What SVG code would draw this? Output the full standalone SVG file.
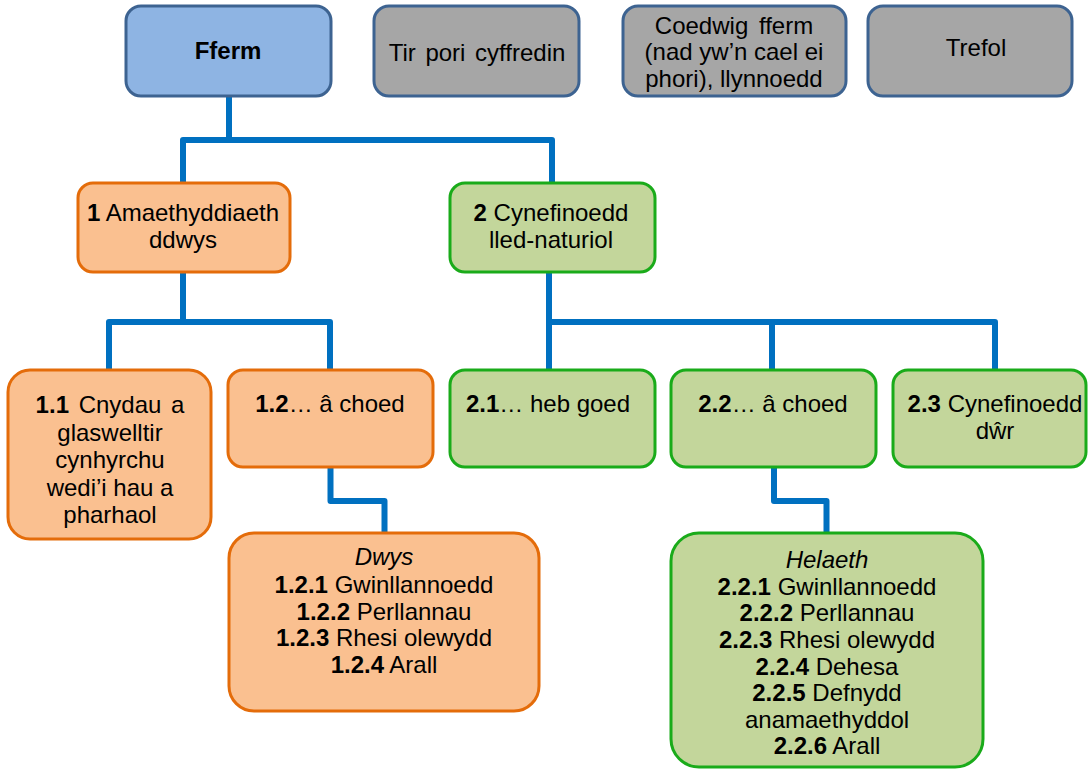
<svg xmlns="http://www.w3.org/2000/svg" width="1088" height="769" viewBox="0 0 1088 769">
<style>
text{font-family:"Liberation Sans",Arial,sans-serif;font-size:24px;fill:#000;text-anchor:middle}
.b{font-weight:bold}
.i{font-style:italic}
.blue{fill:#8eb4e3;stroke:#3d6391;stroke-width:3}
.gray{fill:#a6a6a6;stroke:#3d6391;stroke-width:3}
.org{fill:#fac090;stroke:#e46c0a;stroke-width:3}
.grn{fill:#c3d69b;stroke:#1aab1a;stroke-width:3}
.c{fill:none;stroke:#0070c0;stroke-width:6;stroke-linejoin:round}
</style>
<rect width="1088" height="769" fill="#fff"/>
<g id="connectors">
<path class="c" d="M229,96 V140 M183,183 V140 H552 V183"/>
<path class="c" d="M183,272 V322 M109,370 V322 H330 V370"/>
<path class="c" d="M549,272 V322 M549,370 V322 H995 V370 M772,322 V370"/>
<path class="c" d="M330.5,467 V501 H384.5 V533"/>
<path class="c" d="M774,467 V501 H826.5 V533"/>
</g>
<g id="fferm"><rect class="blue" x="126" y="6" width="205" height="90" rx="15"/><text class="b" x="228" y="59">Fferm</text></g>
<g id="tirpori"><rect class="gray" x="374" y="6" width="205" height="90" rx="15"/><text x="477" y="61" word-spacing="3">Tir pori cyffredin</text></g>
<g id="coedwig"><rect class="gray" x="623" y="6" width="223" height="90" rx="15"/><text x="734" y="34" word-spacing="4">Coedwig fferm</text><text x="734" y="60">(nad yw’n cael ei</text><text x="734" y="87">phori), llynnoedd</text></g>
<g id="trefol"><rect class="gray" x="868" y="6" width="204" height="90" rx="15"/><text x="976" y="56">Trefol</text></g>
<g id="n1"><rect class="org" x="78" y="183" width="212" height="89" rx="15"/><text x="183" y="221"><tspan class="b">1</tspan> Amaethyddiaeth</text><text x="183" y="248">ddwys</text></g>
<g id="n2"><rect class="grn" x="450" y="183" width="205" height="89" rx="15"/><text x="551" y="221"><tspan class="b">2</tspan> Cynefinoedd</text><text x="551" y="248">lled-naturiol</text></g>
<g id="n11"><rect class="org" x="8" y="370" width="203" height="169" rx="22"/><text x="110" y="413" word-spacing="3"><tspan class="b">1.1</tspan> Cnydau a</text><text x="110" y="441">glaswelltir</text><text x="110" y="468">cynhyrchu</text><text x="110" y="496">wedi’i hau a</text><text x="110" y="523">pharhaol</text></g>
<g id="n12"><rect class="org" x="228" y="370" width="205" height="97" rx="15"/><text x="330" y="412"><tspan class="b">1.2</tspan>… â choed</text></g>
<g id="n21"><rect class="grn" x="450" y="370" width="205" height="97" rx="15"/><text x="548" y="412"><tspan class="b">2.1</tspan>… heb goed</text></g>
<g id="n22"><rect class="grn" x="671" y="370" width="205" height="97" rx="15"/><text x="773" y="412"><tspan class="b">2.2</tspan>… â choed</text></g>
<g id="n23"><rect class="grn" x="893" y="370" width="193" height="97" rx="15"/><text x="995" y="412"><tspan class="b">2.3</tspan> Cynefinoedd</text><text x="995" y="439">dŵr</text></g>
<g id="dwys"><rect class="org" x="229" y="533" width="310" height="178" rx="25"/><text class="i" x="384" y="565">Dwys</text><text x="384" y="593"><tspan class="b">1.2.1</tspan> Gwinllannoedd</text><text x="384" y="620"><tspan class="b">1.2.2</tspan> Perllannau</text><text x="384" y="646"><tspan class="b">1.2.3</tspan> Rhesi olewydd</text><text x="384" y="673"><tspan class="b">1.2.4</tspan> Arall</text></g>
<g id="helaeth"><rect class="grn" x="671" y="533" width="312" height="234" rx="28"/><text class="i" x="827" y="568">Helaeth</text><text x="827" y="595"><tspan class="b">2.2.1</tspan> Gwinllannoedd</text><text x="827" y="621"><tspan class="b">2.2.2</tspan> Perllannau</text><text x="827" y="648"><tspan class="b">2.2.3</tspan> Rhesi olewydd</text><text x="827" y="675"><tspan class="b">2.2.4</tspan> Dehesa</text><text x="827" y="701"><tspan class="b">2.2.5</tspan> Defnydd</text><text x="827" y="728">anamaethyddol</text><text x="827" y="754"><tspan class="b">2.2.6</tspan> Arall</text></g>
</svg>
